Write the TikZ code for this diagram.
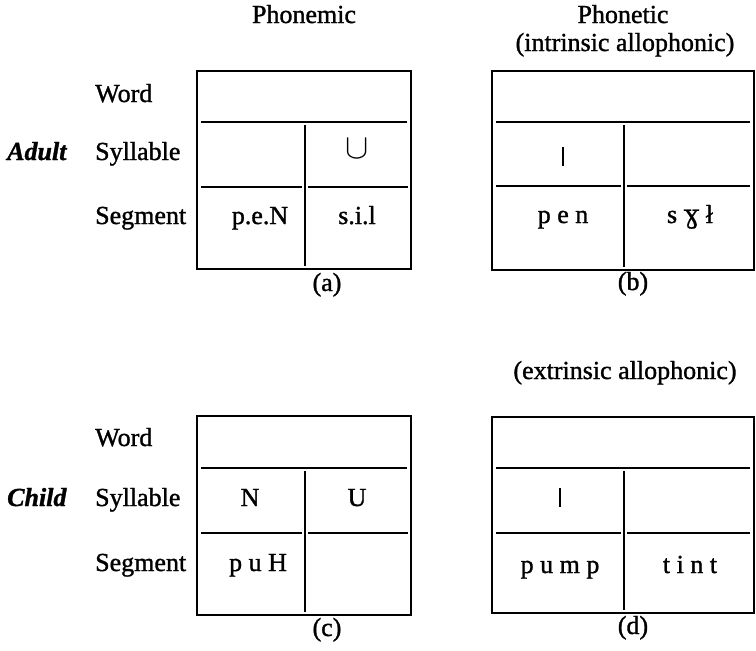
\documentclass[tikz,border=0pt]{standalone}
\usepackage{fontspec}
\setmainfont{Liberation Serif}[FakeBold=1.2]
\newfontfamily\ipafont{DejaVu Serif}[FakeBold=0.6]
\begin{document}
\begin{tikzpicture}[x=1pt,y=-1pt,
  lbl/.style={font=\fontsize{26}{30}\selectfont, inner sep=0pt, text height=17pt, text depth=5pt},
  cell/.style={lbl},
  boxline/.style={line width=1.8pt},
  inline/.style={line width=1.6pt}]
\useasboundingbox (0,0) rectangle (756,651);
% headers
\node[lbl] (hphm) at (304,17) {Phonemic};
\node[lbl] (hpht) at (623,17) {Phonetic};
\node[lbl] (hint) at (625,45) {(intrinsic allophonic)};
\node[lbl] (hext) at (625,373) {(extrinsic allophonic)};
% row labels adult
\node[lbl, anchor=west] (aword) at (95,96) {Word};
\node[lbl, anchor=west] (asyl) at (95,154) {Syllable};
\node[lbl, anchor=west] (aseg) at (95,218) {Segment};
\node[lbl, anchor=west] (adult) at (7,154) {\textbf{\textit{Adult}}};
% row labels child
\node[lbl, anchor=west] (cword) at (95,440) {Word};
\node[lbl, anchor=west] (csyl) at (95,500) {Syllable};
\node[lbl, anchor=west] (cseg) at (95,565) {Segment};
\node[lbl, anchor=west] (child) at (7,500) {\textbf{\textit{Child}}};
% box a
\draw[boxline] (197,71) rectangle (411,269);
\draw[inline] (201,122) -- (407,122);
\draw[inline] (201,187) -- (302,187);
\draw[inline] (308,187) -- (408,187);
\draw[inline] (305,125) -- (305,266);
\node[cell] (a1) at (357,152) {\scalebox{1.4}{$\cup$}};
\node[cell] (a2) at (260,218) {p.e.N};
\node[cell] (a3) at (357,218) {s.i.l};
\node[lbl] (la) at (327,285) {(a)};
% box b
\draw[boxline] (492,71) rectangle (754,270);
\draw[inline] (496,122) -- (750,122);
\draw[inline] (496,186) -- (621,186);
\draw[inline] (627,186) -- (750,186);
\draw[inline] (624,125) -- (624,267);
\draw[line width=1.4pt] (563,147) -- (563,166);
\node[cell] (b2) at (563,217) {p e n};
\node[cell] (b3) at (690,217) {s {\ipafont ɣ} ł};
\node[lbl] (lb) at (633,284) {(b)};
% box c
\draw[boxline] (197,416) rectangle (411,615);
\draw[inline] (201,468) -- (407,468);
\draw[inline] (201,533) -- (302,533);
\draw[inline] (308,533) -- (408,533);
\draw[inline] (305,471) -- (305,612);
\node[cell] (c1) at (250,500) {N};
\node[cell] (c2) at (357,500) {U};
\node[cell] (c3) at (258,565) {p u H};
\node[lbl] (lc) at (327,630) {(c)};
% box d
\draw[boxline] (492,417) rectangle (754,613);
\draw[inline] (496,468) -- (750,468);
\draw[inline] (496,533) -- (621,533);
\draw[inline] (627,533) -- (750,533);
\draw[inline] (624,471) -- (624,610);
\draw[line width=1.4pt] (560,488) -- (560,507);
\node[cell] (d2) at (560,567) {p u m p};
\node[cell] (d3) at (690,567) {t i n t};
\node[lbl] (ld) at (633,628) {(d)};
\end{tikzpicture}
\end{document}
